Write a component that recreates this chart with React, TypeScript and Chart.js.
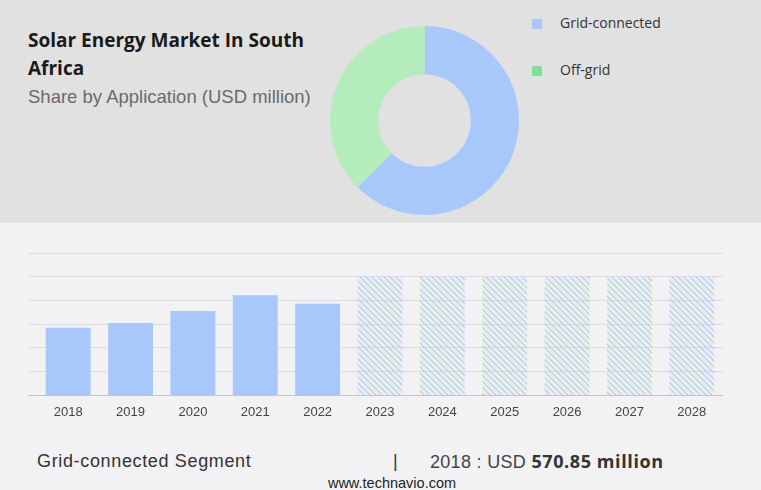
import React, { useEffect, useRef } from "react";
import { Chart, registerables } from "chart.js";

Chart.register(...registerables);

const years = ["2018", "2019", "2020", "2021", "2022", "2023", "2024", "2025", "2026", "2027", "2028"];
const historicalValues = [570.85, 611, 711, 845, 772];
const forecastValues = [1000, 1000, 1000, 1000, 1000, 1000];
const yTicks = [0, 200, 400, 600, 800, 1000, 1200];

const segments = ["Grid-connected", "Off-grid"];
const segmentShares = [62.5, 37.5];
const segmentColors = ["#a8c8fb", "#b4ecbb"];
const legendColors = ["#a8c8fb", "#7ee094"];

const barBlue = "#a8c8fb";

function makeHatch(): CanvasPattern | string {
  const size = 6;
  const c = document.createElement("canvas");
  c.width = size;
  c.height = size;
  const ctx = c.getContext("2d");
  if (!ctx) return "#dbe6fa";
  ctx.fillStyle = "rgba(168,200,251,0.12)";
  ctx.fillRect(0, 0, size, size);
  ctx.fillStyle = "#a3c1f4";
  for (let i = 0; i < size; i++) ctx.fillRect(i, i, 1, 1);
  const p = ctx.createPattern(c, "repeat");
  return p || "#dbe6fa";
}

export default function App() {
  const donutRef = useRef<HTMLCanvasElement>(null);
  const barRef = useRef<HTMLCanvasElement>(null);

  useEffect(() => {
    document.body.style.margin = "0";
    const hatch = makeHatch();
    const values = [...historicalValues, ...forecastValues];
    const colors = values.map((_, i) => (i < historicalValues.length ? barBlue : hatch));

    const donut = new Chart(donutRef.current!, {
      type: "doughnut",
      data: {
        labels: segments,
        datasets: [
          {
            data: segmentShares,
            backgroundColor: segmentColors,
            borderWidth: 0,
          },
        ],
      },
      options: {
        responsive: false,
        animation: false,
        cutout: "49%",
        layout: { padding: 0 },
        plugins: { legend: { display: false }, tooltip: { enabled: false } },
      },
    });

    const bar = new Chart(barRef.current!, {
      type: "bar",
      data: {
        labels: years,
        datasets: [
          {
            data: values,
            backgroundColor: colors as any,
            borderWidth: 0,
            categoryPercentage: 1,
            barPercentage: 0.72,
          },
        ],
      },
      options: {
        responsive: false,
        animation: false,
        layout: { padding: { left: 28, right: 38, top: 30, bottom: 1 } },
        plugins: { legend: { display: false }, tooltip: { enabled: false } },
        scales: {
          x: {
            grid: { display: false, drawTicks: false },
            border: { display: false },
            ticks: {
              padding: 9,
              color: "#444",
              font: { family: "'Liberation Sans', Arial, sans-serif", size: 13 },
            },
          },
          y: {
            min: yTicks[0],
            max: yTicks[yTicks.length - 1],
            afterBuildTicks: (axis: any) => {
              axis.ticks = yTicks.map((v) => ({ value: v }));
            },
            border: { display: false },
            grid: {
              drawTicks: true,
              tickLength: 9,
              lineWidth: 1,
              color: (ctx: any) => (ctx.tick && ctx.tick.value === 0 ? "#c6c6c8" : "#dcdcde"),
            },
            ticks: { display: false },
          },
        },
      },
    });

    return () => {
      donut.destroy();
      bar.destroy();
    };
  }, []);

  const font = "'Open Sans', 'Noto Sans', sans-serif";
  const sans = "'Liberation Sans', Arial, sans-serif";

  return (
    <div style={{ position: "fixed", left: 0, top: 0, width: 761, height: 490, background: "#f2f2f4", overflow: "hidden" }}>
      <div style={{ position: "absolute", left: 0, top: 0, width: 761, height: 223, background: "#e1e1e1" }} />
      <div
        style={{
          position: "absolute",
          left: 28,
          top: 26,
          width: 320,
          fontFamily: font,
          fontWeight: 700,
          fontSize: 19,
          lineHeight: "28px",
          color: "#1a1a1a",
        }}
      >
        Solar Energy Market In South
        <br />
        Africa
      </div>
      <div
        style={{
          position: "absolute",
          left: 28,
          top: 86,
          fontFamily: sans,
          fontSize: 18.5,
          lineHeight: "22px",
          color: "#6a6a6a",
          whiteSpace: "nowrap",
        }}
      >
        Share by Application (USD million)
      </div>
      <canvas ref={donutRef} width={189} height={189} style={{ position: "absolute", left: 330, top: 26 }} />
      {segments.map((s, i) => (
        <div key={s} style={{ position: "absolute", left: 532, top: 12 + i * 47, height: 22 }}>
          <div style={{ position: "absolute", left: 0, top: 7, width: 10, height: 10, background: legendColors[i] }} />
          <div
            style={{
              position: "absolute",
              left: 28,
              top: 0,
              fontFamily: font,
              fontSize: 14,
              lineHeight: "22px",
              color: "#333",
              whiteSpace: "nowrap",
            }}
          >
            {s}
          </div>
        </div>
      ))}
      <canvas ref={barRef} width={761} height={207} style={{ position: "absolute", left: 0, top: 223 }} />
      <div
        style={{
          position: "absolute",
          left: 37,
          top: 450,
          fontFamily: sans,
          fontSize: 18,
          letterSpacing: 0.65,
          lineHeight: "22px",
          color: "#333",
          whiteSpace: "nowrap",
        }}
      >
        Grid-connected Segment
      </div>
      <div
        style={{
          position: "absolute",
          left: 393,
          top: 450,
          fontFamily: sans,
          fontSize: 18,
          lineHeight: "22px",
          color: "#333",
        }}
      >
        |
      </div>
      <div
        style={{
          position: "absolute",
          left: 430,
          top: 450,
          fontFamily: sans,
          fontSize: 18,
          letterSpacing: 0.3,
          lineHeight: "22px",
          color: "#444",
          whiteSpace: "nowrap",
        }}
      >
        2018 : USD{" "}
        <span style={{ fontFamily: font, fontWeight: 700, fontSize: 18, letterSpacing: 0.6, color: "#333" }}>
          570.85 million
        </span>
      </div>
      <div
        style={{
          position: "absolute",
          left: 0,
          width: 784,
          top: 475,
          textAlign: "center",
          fontFamily: sans,
          fontSize: 14.5,
          lineHeight: "16px",
          color: "#222",
        }}
      >
        www.technavio.com
      </div>
    </div>
  );
}
